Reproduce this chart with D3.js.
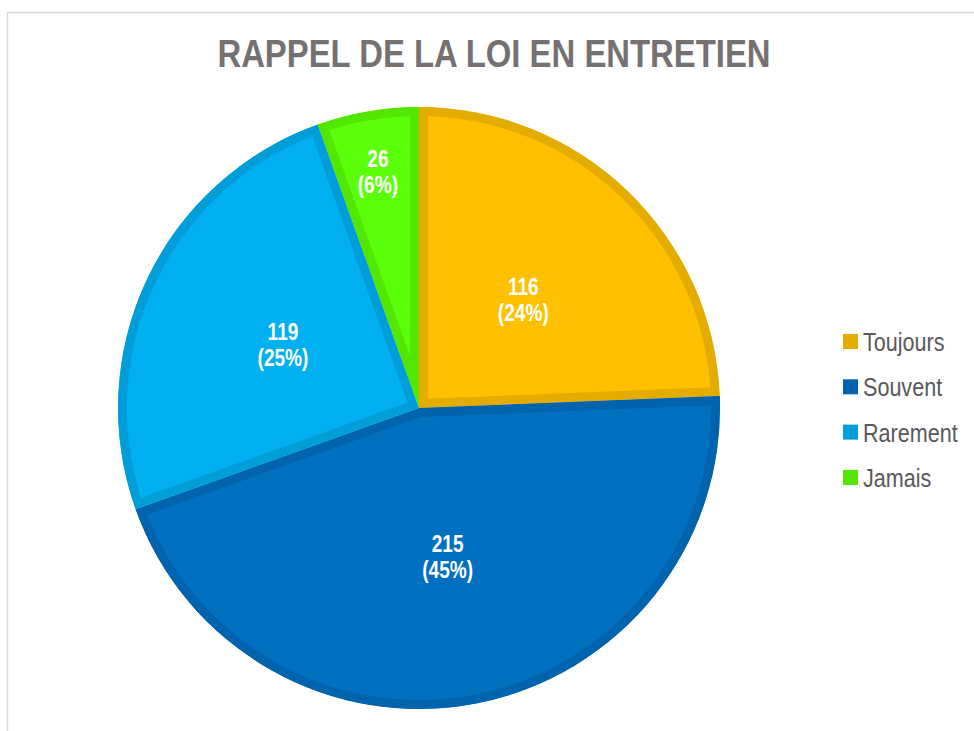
<!DOCTYPE html>
<html>
<head>
<meta charset="utf-8">
<script src="https://cdn.jsdelivr.net/npm/d3@7"></script>
<style>
  body { margin: 0; background: #fff; }
  svg { display: block; }
  .title { font-family: "Liberation Sans Narrow", "Liberation Sans", Arial, sans-serif; font-weight: bold; fill: #757171; font-size: 38px; }
  .lbl { font-family: "Liberation Sans Narrow", "Liberation Sans", Arial, sans-serif; font-weight: bold; fill: #fff; font-size: 23px; }
  .leg { font-family: "Liberation Sans Narrow", "Liberation Sans", Arial, sans-serif; fill: #595959; font-size: 26px; }
</style>
</head>
<body>
<svg id="chart" width="974" height="731"></svg>
<script>
const svg = d3.select('#chart');

// Données
const categories = ['Toujours', 'Souvent', 'Rarement', 'Jamais'];
const values = [116, 215, 119, 26];
const percentLabels = ['24%', '45%', '25%', '6%'];
const fills = ['#FFC000', '#0070C0', '#00B0F0', '#5CFF0A'];
const borders = ['#E5AC00', '#0063AD', '#009ED8', '#52E600'];
const title = 'RAPPEL DE LA LOI EN ENTRETIEN';

const data = categories.map((c, i) => ({cat: c, value: values[i], pct: percentLabels[i], i}));
const total = d3.sum(values);

const width = +svg.attr('width');
const height = +svg.attr('height');
const cx = 419, cy = 408, radius = 301;
const narrow = 0.83; // compression horizontale (police étroite)

// cadre
svg.append('rect')
    .attr('x', 7.5).attr('y', 12.5)
    .attr('width', width + 20).attr('height', height + 20)
    .attr('fill', 'none')
    .attr('stroke', '#D9D9D9')
    .attr('stroke-width', 1.5);

svg.append('text')
    .attr('class', 'title')
    .attr('transform', `translate(494, 67) scale(0.865, 1)`)
    .attr('text-anchor', 'middle')
    .text(title);

const pie = d3.pie().sort(null).value(d => d.value);
const arc = d3.arc().innerRadius(0).outerRadius(radius);
const arcs = pie(data);

const g = svg.append('g').attr('transform', `translate(${cx}, ${cy})`);
const defs = svg.append('defs');

arcs.forEach((a, k) => {
    defs.append('clipPath').attr('id', 'clip' + k)
        .append('path').attr('d', arc(a));
});

g.selectAll('path.slice')
    .data(arcs)
    .enter()
    .append('path')
    .attr('class', 'slice')
    .attr('d', arc)
    .attr('fill', d => fills[d.data.i])
    .attr('stroke', d => borders[d.data.i])
    .attr('stroke-width', 18)
    .attr('clip-path', (d, k) => `url(#clip${k})`);

// étiquettes (valeur au-dessus, pourcentage en dessous)
const labelArc = d3.arc().innerRadius(radius * 0.5).outerRadius(radius * 0.5);
const smallArc = d3.arc().innerRadius(radius * 0.8).outerRadius(radius * 0.8);
const labelPos = d => (d.data.value / total < 0.1 ? smallArc : labelArc).centroid(d);

const labelG = g.selectAll('g.lbl')
    .data(arcs)
    .enter()
    .append('g')
    .attr('class', 'lblg')
    .attr('transform', d => {
        const p = labelPos(d);
        return `translate(${p[0]}, ${p[1]})`;
    });

labelG.append('text')
    .attr('class', 'lbl')
    .attr('text-anchor', 'middle')
    .attr('transform', `translate(0, -4) scale(${narrow}, 1)`)
    .text(d => d.data.value);

labelG.append('text')
    .attr('class', 'lbl')
    .attr('text-anchor', 'middle')
    .attr('transform', `translate(0, 22) scale(${narrow}, 1)`)
    .text(d => `(${d.data.pct})`);

// légende
const legend = svg.append('g').attr('transform', 'translate(843, 342)');
const rows = legend.selectAll('g')
    .data(categories)
    .enter()
    .append('g')
    .attr('transform', (d, i) => `translate(0, ${i * 45.3})`);

rows.append('rect')
    .attr('x', 0).attr('y', -8)
    .attr('width', 15).attr('height', 15)
    .attr('fill', (d, i) => borders[i]);

rows.append('text')
    .attr('class', 'leg')
    .attr('transform', `translate(20, 9) scale(${narrow}, 1)`)
    .text(d => d);
</script>
</body>
</html>
